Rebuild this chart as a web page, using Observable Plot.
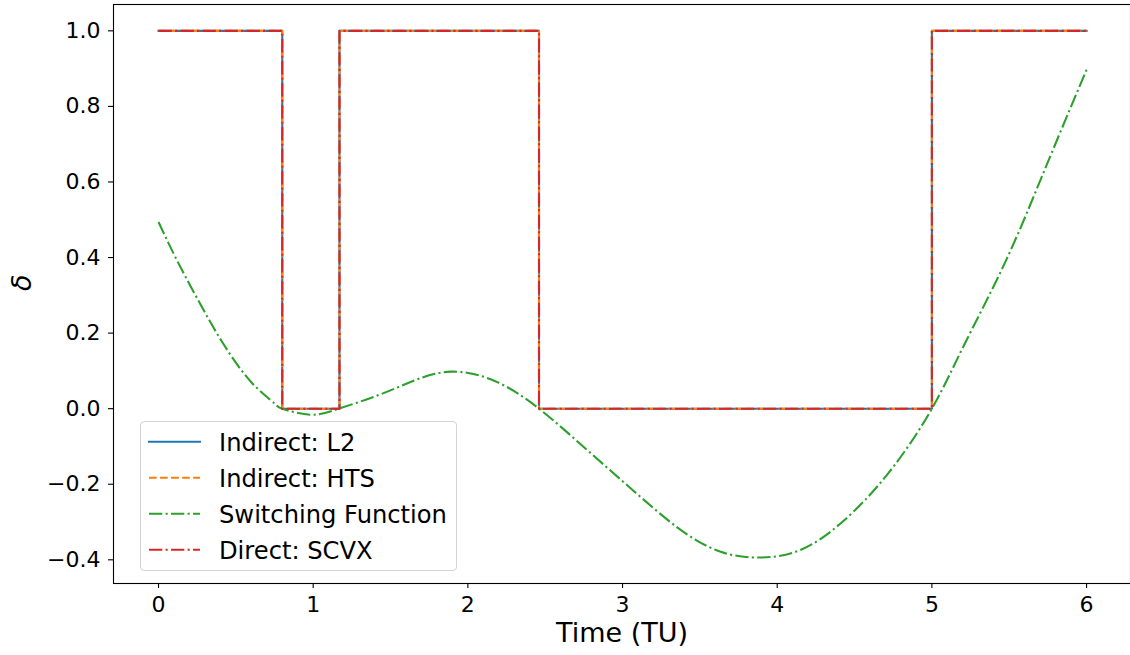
<!DOCTYPE html>
<html><head><meta charset="utf-8">
<script src="https://cdn.jsdelivr.net/npm/d3@7"></script>
<script src="https://cdn.jsdelivr.net/npm/@observablehq/plot@0.6"></script>
<style>
body{margin:0;background:#fff;}
#wrap{position:relative;width:1130px;height:655px;font-family:"DejaVu Sans";}
#legend{position:absolute;left:140px;top:421px;width:317px;height:150px;border:1px solid #d3d3d3;border-radius:4px;background:rgba(255,255,255,0.8);box-sizing:border-box;}
#legend svg{position:absolute;left:-1px;top:-1px;}
</style></head><body><div id="wrap"><div id="legend"></div></div>
<script>
// Bang-bang control (switch times and values, step-after)
const switchTimes = [0, 0.8, 1.17, 2.46, 5.0, 6.0];
const l2Values    = [1, 0, 1, 0, 1, 1];
const htsValues   = [1, 0, 1, 0, 1, 1];
const scvxValues  = [1, 0, 1, 0, 1, 1];
// Switching function samples
const sfTimes  = [0, 0.12, 0.27, 0.42, 0.6, 0.75, 0.8, 0.98, 1.165, 1.41, 1.65, 1.89, 2.17, 2.46, 2.77, 3.07, 3.36, 3.63, 3.89, 4.15, 4.42, 4.72, 5.0, 5.21, 5.48, 5.74, 6.0];
const sfValues = [0.494, 0.392, 0.277, 0.171, 0.07, 0.014, 0.0, -0.016, 0.0, 0.034, 0.074, 0.098, 0.074, 0.0, -0.109, -0.217, -0.316, -0.378, -0.394, -0.374, -0.30, -0.17, 0.0, 0.17, 0.393, 0.643, 0.897];
const xTicks = [0, 1, 2, 3, 4, 5, 6];
const yTicks = [-0.4, -0.2, 0.0, 0.2, 0.4, 0.6, 0.8, 1.0];
const seriesNames  = ["Indirect: L2", "Indirect: HTS", "Switching Function", "Direct: SCVX"];
const seriesColors = ["#1f77b4", "#ff7f0e", "#2ca02c", "#d62728"];
const seriesDash   = ["none", "7.7,3.33", "13.3,3.3,2.1,3.3", "13.3,3.3,2.1,3.3"];

const toRows = (ts, vs) => ts.map((t, i) => ({t, v: vs[i]}));
const l2 = toRows(switchTimes, l2Values);
const hts = toRows(switchTimes, htsValues);
const scvx = toRows(switchTimes, scvxValues);
const sf = toRows(sfTimes, sfValues);

const lw = 2.08;
const chart = Plot.plot({
  width: 1130, height: 655,
  marginLeft: 113, marginRight: 0, marginTop: 4, marginBottom: 72,
  style: {fontFamily: "DejaVu Sans", fontSize: "22px", background: "white", color: "black"},
  x: {domain: [-0.291, 6.284]},
  y: {domain: [-0.4627, 1.0697]},
  marks: [
    Plot.axisX({ticks: xTicks, tickFormat: "d", tickSize: 5, tickPadding: 8, label: null, fontSize: 22, strokeWidth: 1.1}),
    Plot.axisY({ticks: yTicks, tickFormat: ".1f", tickSize: 5, tickPadding: 8, label: null, fontSize: 22, strokeWidth: 1.1}),
    Plot.line(l2, {x: "t", y: "v", curve: "step-after", stroke: seriesColors[0], strokeWidth: lw, strokeLinecap: "square", strokeLinejoin: "round"}),
    Plot.line(hts, {x: "t", y: "v", curve: "step-after", stroke: seriesColors[1], strokeWidth: lw, strokeDasharray: seriesDash[1], strokeLinecap: "butt", strokeLinejoin: "round"}),
    Plot.line(sf, {x: "t", y: "v", curve: "natural", stroke: seriesColors[2], strokeWidth: lw, strokeDasharray: seriesDash[2], strokeLinecap: "butt", strokeLinejoin: "round"}),
    Plot.line(scvx, {x: "t", y: "v", curve: "step-after", stroke: seriesColors[3], strokeWidth: lw, strokeDasharray: seriesDash[3], strokeLinecap: "butt", strokeLinejoin: "round"}),
    Plot.frame({stroke: "black", strokeWidth: 1.1}),
    Plot.text(["Time (TU)"], {text: d => d, frameAnchor: "bottom", dy: 50, fontSize: 27, lineAnchor: "middle", fill: "black"}),
    Plot.text(["δ"], {text: d => d, frameAnchor: "left", dx: -91, dy: -3, rotate: -90, fontSize: 27, fontStyle: "italic", lineAnchor: "middle", fill: "black"})
  ]
});
document.getElementById("wrap").insertBefore(chart, document.getElementById("legend"));
chart.style.position = "absolute"; chart.style.left = "0"; chart.style.top = "0";

// Legend
const leg = d3.select("#legend").append("svg").attr("width", 317).attr("height", 150);
seriesNames.forEach((name, i) => {
  const cy = 20.7 + 36 * i;
  leg.append("line").attr("x1", 9).attr("x2", 60).attr("y1", cy).attr("y2", cy)
    .attr("stroke", seriesColors[i]).attr("stroke-width", lw)
    .attr("stroke-dasharray", seriesDash[i]).attr("stroke-linecap", i === 0 ? "square" : "butt");
  leg.append("text").attr("x", 79).attr("y", cy + 9).attr("font-family", "DejaVu Sans")
    .attr("font-size", 24.2).attr("fill", "black").text(name);
});
</script>
</body></html>
